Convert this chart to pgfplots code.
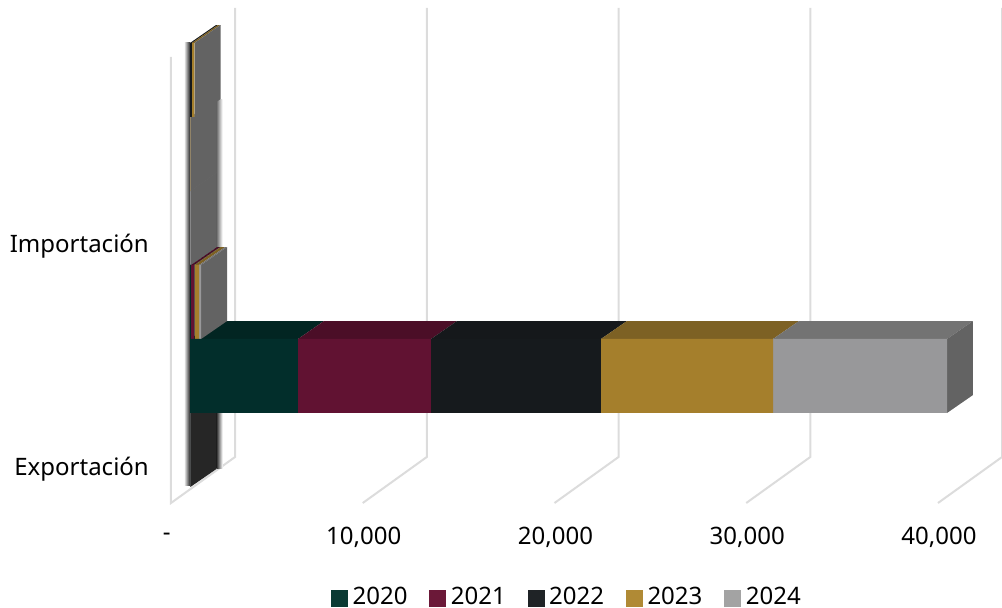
\documentclass[border=0pt]{standalone}
\usepackage{pgfplots}
\pgfplotsset{compat=1.18}
\usepackage{fontspec}
\setmainfont{Noto Sans}
\definecolor{cA}{HTML}{022E2B}\definecolor{cB}{HTML}{611232}\definecolor{cC}{HTML}{161A1D}\definecolor{cD}{HTML}{A57F2C}\definecolor{cE}{HTML}{98989A}
\definecolor{tA}{HTML}{022522}\definecolor{tB}{HTML}{4B0E27}\definecolor{tC}{HTML}{15181B}\definecolor{tD}{HTML}{7D6124}\definecolor{tE}{HTML}{737373}
\definecolor{sE}{HTML}{636363}\definecolor{sC}{HTML}{262626}
\definecolor{lA}{HTML}{0A3A33}\definecolor{lB}{HTML}{6B1838}\definecolor{lC}{HTML}{1F2326}\definecolor{lD}{HTML}{B08A35}\definecolor{lE}{HTML}{A3A3A3}
\definecolor{gridc}{HTML}{DCDCDC}
\pgfplotsset{
  bars3d/.style={scale only axis,at={(190pt,105pt)},anchor=south west,width=812pt,height=495pt,
    xmin=0,xmax=42424,ymin=0.2838,ymax=6.973,hide axis,clip=false},
  face/.style={fill=#1,draw=none,forget plot},
  wall/.style={gridc,line width=2pt,forget plot}
}
\begin{document}
\fontsize{24}{28}\selectfont
\begin{tikzpicture}[x=1pt,y=1pt]
\useasboundingbox (0,0) rectangle (1002,608);
% ---- walls, ticks and category labels
\begin{axis}[scale only axis,at={(171pt,105pt)},anchor=south west,width=831pt,height=495pt,
  xmin=0,xmax=43338,ymin=0.2838,ymax=6.973,clip=false,
  axis line style={draw=none},tick style={draw=none},scaled x ticks=false,
  xtick={0,10000,20000,30000,40000},
  xticklabels={\makebox[0pt][r]{-\hspace{1.5pt}},{10,000},{20,000},{30,000},{40,000}},
  ytick={0.744,3.757},yticklabels={Exportación,Importación},
  xticklabel style={anchor=center,yshift=-34pt,xshift=1pt},
  yticklabel style={anchor=east,xshift=-14pt},
  tick label style={font=\fontsize{24}{28}\selectfont}]
\addplot[wall] coordinates {(0,6.311)(0,0.2838)(3338,0.905)(3338,6.973)};
\addplot[wall] coordinates {(10000,0.2838)(13338,0.905)(13338,6.973)};
\addplot[wall] coordinates {(20000,0.2838)(23338,0.905)(23338,6.973)};
\addplot[wall] coordinates {(30000,0.2838)(33338,0.905)(33338,6.973)};
\addplot[wall] coordinates {(40000,0.2838)(43338,0.905)(43338,6.973)};
\end{axis}
% ---- depth faces, lowest row first
\begin{axis}[bars3d]
% soft edges
\addplot[forget plot,draw=none,left color=white,right color=gray!30!black] coordinates {(-320,0.52)(0,0.52)(0,6.5)(-320,6.5)} --cycle;
\addplot[forget plot,draw=none,left color=sC,right color=white] coordinates {(1378,0.75)(1700,0.75)(1700,1.5)(1378,1.5)} --cycle;
\addplot[forget plot,draw=none,left color=sE,right color=white] coordinates {(1373,3.743)(1700,3.743)(1700,5.743)(1373,5.743)} --cycle;
% row 1
\addplot[face=sC] coordinates {(20,0.5)(20,1.5)(1378,1.743)(1378,0.743)} --cycle;
% row 2
\addplot[face=tA] coordinates {(0,2.5)(5640,2.5)(6998,2.743)(1358,2.743)} --cycle;
\addplot[face=tB] coordinates {(5640,2.5)(12590,2.5)(13948,2.743)(6998,2.743)} --cycle;
\addplot[face=tC] coordinates {(12590,2.5)(21470,2.5)(22828,2.743)(13948,2.743)} --cycle;
\addplot[face=tD] coordinates {(21470,2.5)(30460,2.5)(31818,2.743)(22828,2.743)} --cycle;
\addplot[face=tE] coordinates {(30460,2.5)(39550,2.5)(40908,2.743)(31818,2.743)} --cycle;
\addplot[face=sE] coordinates {(39550,1.5)(39550,2.5)(40908,2.743)(40908,1.743)} --cycle;
% row 3
\addplot[face=tA] coordinates {(0,3.5)(50,3.5)(1408,3.743)(1358,3.743)} --cycle;
\addplot[face=tB] coordinates {(50,3.5)(210,3.5)(1568,3.743)(1408,3.743)} --cycle;
\addplot[face=tC] coordinates {(210,3.5)(240,3.5)(1598,3.743)(1568,3.743)} --cycle;
\addplot[face=tD] coordinates {(240,3.5)(475,3.5)(1833,3.743)(1598,3.743)} --cycle;
\addplot[face=tE] coordinates {(475,3.5)(580,3.5)(1938,3.743)(1833,3.743)} --cycle;
\addplot[face=sE] coordinates {(580,2.5)(580,3.5)(1938,3.743)(1938,2.743)} --cycle;
% row 4
\addplot[face=sE,draw=sE,line width=0.4pt] coordinates {(15,3.5)(15,4.5)(1373,4.743)(1373,3.743)} --cycle;
% row 5
\addplot[face=sE,draw=sE,line width=0.4pt] coordinates {(30,4.5)(30,5.5)(1388,5.743)(1388,4.743)} --cycle;
% row 6
\addplot[face=tC] coordinates {(0,6.5)(100,6.5)(1458,6.743)(1358,6.743)} --cycle;
\addplot[face=tD] coordinates {(100,6.5)(230,6.5)(1588,6.743)(1458,6.743)} --cycle;
\addplot[face=tE] coordinates {(230,6.5)(240,6.5)(1598,6.743)(1588,6.743)} --cycle;
\addplot[face=sE] coordinates {(240,5.5)(240,6.5)(1598,6.743)(1598,5.743)} --cycle;
\end{axis}
% ---- front faces and legend
\begin{axis}[bars3d,xbar stacked,bar width=1,
  legend columns=5,
  legend cell align=left,
  legend style={draw=none,fill=none,at={(0.463,-0.192)},anchor=center,
    font=\fontsize{24}{24}\selectfont,inner sep=0pt,
    nodes={inner sep=0pt},
    /tikz/every odd column/.append style={column sep=5pt},
    /tikz/every even column/.append style={column sep=22pt}},
  legend image code/.code={\fill[#1] (0pt,-8pt) rectangle (16pt,8pt);}]
\addlegendimage{lA}\addlegendentry{2020}
\addlegendimage{lB}\addlegendentry{2021}
\addlegendimage{lC}\addlegendentry{2022}
\addlegendimage{lD}\addlegendentry{2023}
\addlegendimage{lE}\addlegendentry{2024}
\addplot[fill=cA,draw=none,forget plot] coordinates {(0,1)(5640,2)(50,3)(0,4)(0,5)(0,6)};
\addplot[fill=cB,draw=none,forget plot] coordinates {(0,1)(6950,2)(160,3)(0,4)(0,5)(0,6)};
\addplot[fill=cC,draw=none,forget plot] coordinates {(20,1)(8880,2)(30,3)(0,4)(0,5)(100,6)};
\addplot[fill=cD,draw=none,forget plot] coordinates {(0,1)(8990,2)(235,3)(0,4)(15,5)(130,6)};
\addplot[fill=cE,draw=none,forget plot] coordinates {(0,1)(9090,2)(105,3)(15,4)(15,5)(10,6)};
\end{axis}
\end{tikzpicture}
\end{document}
